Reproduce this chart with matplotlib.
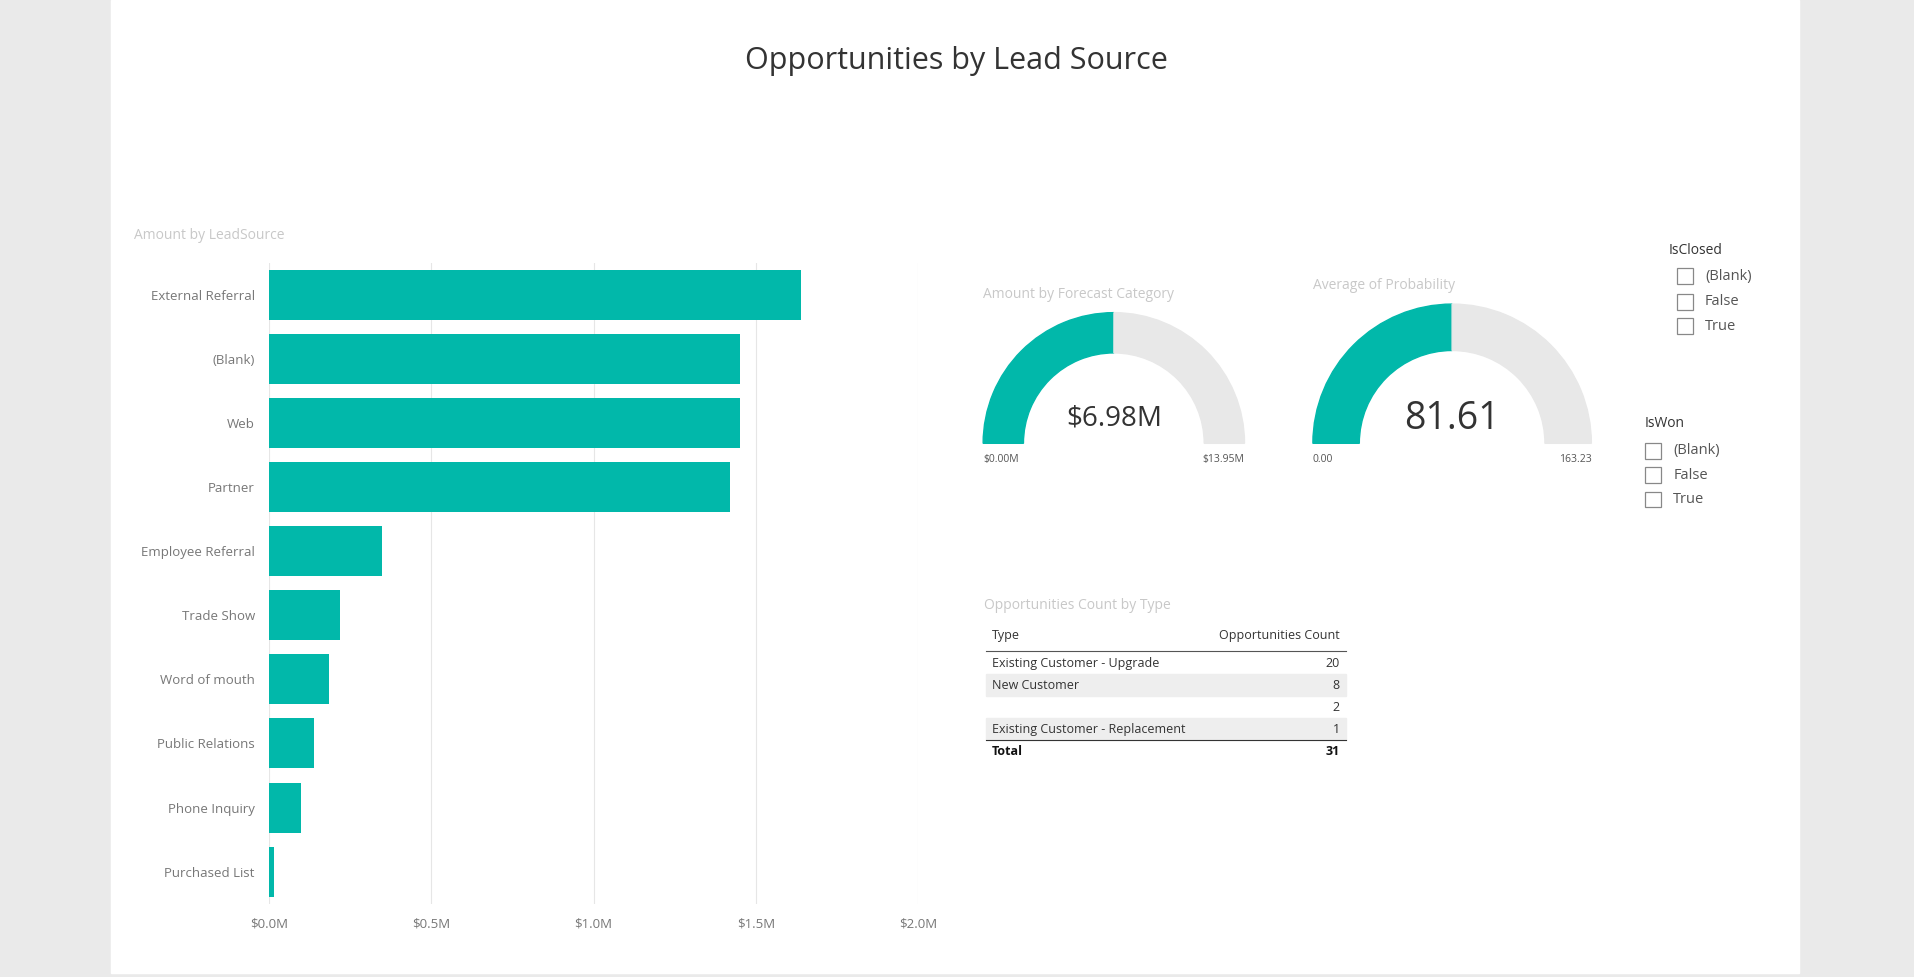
import matplotlib.pyplot as plt
from matplotlib.patches import Wedge, Rectangle

plt.rcParams['font.family'] = ['Open Sans', 'DejaVu Sans']

sources = ['External Referral', '(Blank)', 'Web', 'Partner', 'Employee Referral',
           'Trade Show', 'Word of mouth', 'Public Relations', 'Phone Inquiry', 'Purchased List']
amounts = [1.64, 1.45, 1.45, 1.42, 0.35, 0.22, 0.185, 0.14, 0.10, 0.015]  # $M
xticks = [0, 0.5, 1.0, 1.5, 2.0]
xtick_labels = ['$0.0M', '$0.5M', '$1.0M', '$1.5M', '$2.0M']

forecast_value, forecast_max = 6.98, 13.95
prob_value, prob_max = 81.61, 163.23

table_types = ['Existing Customer - Upgrade', 'New Customer', '', 'Existing Customer - Replacement']
table_counts = [20, 8, 2, 1]
slicer_opts = ['(Blank)', 'False', 'True']

teal = '#01B8AA'
W, H = 1568, 800
fig = plt.figure(figsize=(19.15, 9.77), dpi=100)
fig.patch.set_facecolor('#EAEAEA')

# overlay axes in reference pixel coords
ov = fig.add_axes([0, 0, 1, 1])
ov.set_xlim(0, W)
ov.set_ylim(H, 0)
ov.axis('off')
ov.add_patch(Rectangle((91, 0), 1382, 797, color='white', zorder=0))
ov.text(783, 50, 'Opportunities by Lead Source', ha='center', va='center', fontsize=22, color='#333333')
ov.text(110, 193, 'Amount by LeadSource', fontsize=10, color='#C8C8C8', va='center')

# bar chart
bx = fig.add_axes([220 / W, 1 - 740 / H, (752 - 220) / W, (740 - 215) / H])
bx.barh(range(len(sources)), amounts, height=0.78, color=teal, zorder=3)
bx.set_ylim(len(sources) - 0.5, -0.5)
bx.set_xlim(0, 2.0)
bx.set_xticks(xticks)
bx.set_xticklabels(xtick_labels, color='#777777', fontsize=9.5)
bx.set_yticks(range(len(sources)))
bx.set_yticklabels(sources, color='#777777', fontsize=9.5)
bx.tick_params(length=0, pad=10)
bx.grid(axis='x', color='#E6E6E6', zorder=0)
for s in bx.spines.values():
    s.set_visible(False)
bx.set_facecolor('none')


def gauge(cx, cy, r, w, val, vmax, title, vtxt, lo, hi, fs):
    ov.text(cx - r, cy - r - 15, title, fontsize=10, color='#C8C8C8', va='center')
    ang = 180 - 180 * val / vmax
    ov.add_patch(Wedge((cx, cy), r, 0, ang, width=w, color='#E8E8E8'))
    ov.add_patch(Wedge((cx, cy), r, ang, 180, width=w, color=teal))
    ov.text(cx, cy - 20, vtxt, ha='center', va='center', fontsize=fs, color='#333333')
    ov.text(cx - r, cy + 13, lo, fontsize=7.5, color='#555555', va='center')
    ov.text(cx + r, cy + 13, hi, fontsize=7.5, color='#555555', va='center', ha='right')


# y-axis flipped: wedges drawn with inverted y, so use negative angles via flipping
ov.set_ylim(H, 0)
def gauge_flip(cx, cy, r, w, val, vmax, title, vtxt, lo, hi, fs):
    ov.text(cx - r, cy - r - 15, title, fontsize=10, color='#C8C8C8', va='center')
    ang = 180 + 180 * val / vmax
    ov.add_patch(Wedge((cx, cy), r, 180, ang, width=w, color=teal))
    ov.add_patch(Wedge((cx, cy), r, ang, 360, width=w, color='#E8E8E8'))
    ov.text(cx, cy - 20, vtxt, ha='center', va='center', fontsize=fs, color='#333333')
    ov.text(cx - r, cy + 13, lo, fontsize=7.5, color='#555555', va='center')
    ov.text(cx + r, cy + 13, hi, fontsize=7.5, color='#555555', va='center', ha='right')


gauge_flip(912, 363, 107, 33, forecast_value, forecast_max, 'Amount by Forecast Category',
           f'${forecast_value:.2f}M', '$0.00M', f'${forecast_max:.2f}M', 20)
gauge_flip(1189, 363, 114, 38, prob_value, prob_max, 'Average of Probability',
           f'{prob_value:.2f}', '0.00', f'{prob_max:.2f}', 27)

# table
ov.text(806, 496, 'Opportunities Count by Type', fontsize=10, color='#C8C8C8', va='center')
ov.text(812, 520, 'Type', fontsize=9, color='#333333', va='center')
ov.text(1097, 520, 'Opportunities Count', fontsize=9, color='#333333', va='center', ha='right')
ov.plot([807, 1102], [533, 533], color='#555555', lw=0.8)
row_y = [543, 561, 579, 597]
for i, (t, c) in enumerate(zip(table_types, table_counts)):
    if i % 2 == 1:
        ov.add_patch(Rectangle((807, row_y[i] - 9), 295, 18, color='#EEEEEE', zorder=0.5))
    ov.text(812, row_y[i], t, fontsize=9, color='#333333', va='center')
    ov.text(1097, row_y[i], str(c), fontsize=9, color='#333333', va='center', ha='right')
ov.plot([807, 1102], [606, 606], color='#333333', lw=0.8)
ov.text(812, 615, 'Total', fontsize=9, color='#111111', va='center', weight='bold')
ov.text(1097, 615, str(sum(table_counts)), fontsize=9, color='#111111', va='center', ha='right', weight='bold')


def slicer(x, y, title, ys):
    ov.text(x, y, title, fontsize=10, color='#333333', va='center')
    bx0 = x + 7 if title == 'IsClosed' else x
    for yy, o in zip(ys, slicer_opts):
        ov.add_patch(Rectangle((bx0, yy - 6.5), 13, 13, fill=False, ec='#888888', lw=0.9))
        ov.text(bx0 + 23, yy, o, fontsize=10.5, color='#555555', va='center')


slicer(1366, 205, 'IsClosed', [226, 247, 267])
slicer(1347, 347, 'IsWon', [369, 389, 409])

fig.savefig('out.png', dpi=100, facecolor=fig.get_facecolor())
